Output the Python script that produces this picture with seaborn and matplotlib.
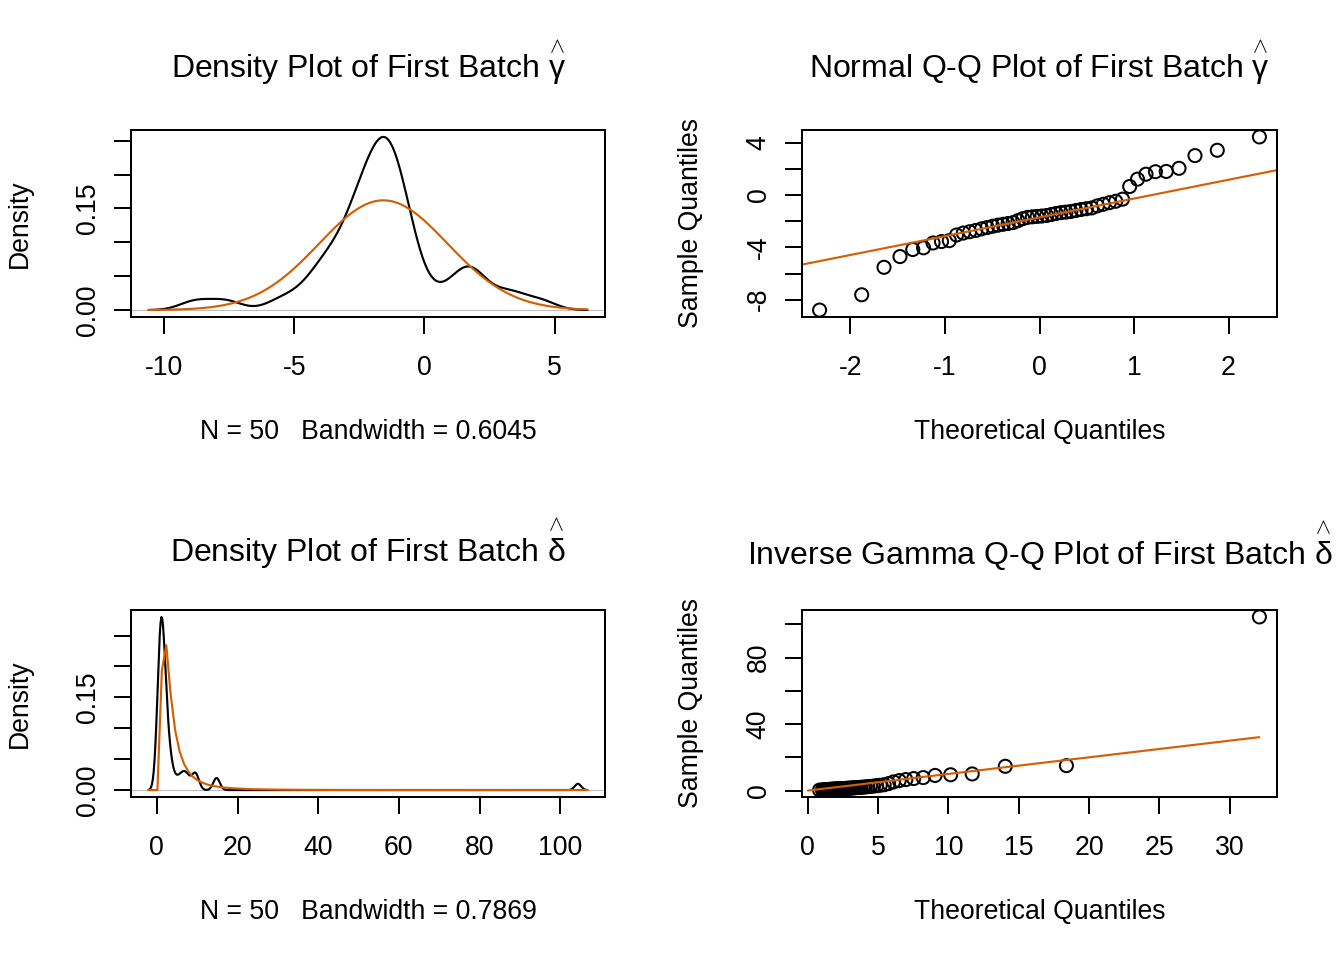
import math
from statistics import NormalDist

import numpy as np
import matplotlib
matplotlib.use("Agg")
import matplotlib.pyplot as plt
import seaborn as sns

# gamma-hat of the first batch, sorted
gamma_low = [-8.79, -7.62, -5.52, -4.70, -4.16, -4.03, -3.66, -3.55, -3.48, -3.05]
gamma_mid = [-2.90, -2.80, -2.70, -2.58, -2.48, -2.38, -2.30, -2.23, -2.17, -2.10,
             -1.95, -1.80, -1.70, -1.66, -1.63, -1.60, -1.56, -1.48, -1.40, -1.34,
             -1.30, -1.25, -1.18, -1.10, -1.04, -0.98, -0.82, -0.70, -0.58, -0.47]
gamma_high = [-0.31, 0.66, 1.22, 1.60, 1.79, 1.81, 2.05, 3.02, 3.43, 4.45]

# delta-hat of the first batch, sorted
delta_low = [0.30, 0.40, 0.48, 0.55, 0.61, 0.66, 0.71, 0.75, 0.79, 0.83,
             0.87, 0.91, 0.95, 0.99, 1.03, 1.07, 1.11, 1.15, 1.20, 1.25,
             1.30, 1.36, 1.42, 1.48, 1.55, 1.62, 1.70, 1.78, 1.86, 1.95]
delta_mid = [2.05, 2.20, 2.35, 2.50, 2.70, 2.95, 3.20, 3.50, 4.20, 5.20]
delta_high = [6.00, 6.60, 7.20, 7.80, 9.10, 9.50, 10.00, 14.60, 15.00, 104.40]

gamma_hat = np.array(gamma_low + gamma_mid + gamma_high)
delta_hat = np.array(delta_low + delta_mid + delta_high)

# bandwidths printed under the density plots
gamma_bw = 0.6045
delta_bw = 0.7869

# inverse gamma prior (shape, scale) for delta
a_prior = 2.13
b_prior = 5.74

ORANGE = "#D55E00"
GRAY = "#BEBEBE"
W, H = 1344, 960

sns.set_theme(style="white")
plt.rcParams["font.family"] = ["Liberation Sans", "DejaVu Sans"]
plt.rcParams.update({
    "mathtext.fontset": "custom",
    "mathtext.rm": "Liberation Sans",
    "mathtext.it": "Liberation Sans",
    "mathtext.bf": "Liberation Sans:bold",
    "axes.edgecolor": "black",
    "axes.linewidth": 0.75,
    "text.color": "black",
    "axes.labelcolor": "black",
    "xtick.color": "black",
    "ytick.color": "black",
})


def ppoints(n):
    a = 3 / 8 if n <= 10 else 0.5
    return (np.arange(1, n + 1) - a) / (n + 1 - 2 * a)


def invgamma_pdf(x, a, b):
    x = np.asarray(x, dtype=float)
    out = np.zeros_like(x)
    pos = x > 0
    lx = np.log(x[pos])
    out[pos] = np.exp(a * math.log(b) - math.lgamma(a) - (a + 1) * lx - b / x[pos])
    return out


def invgamma_quantile(p, a, b):
    u = np.linspace(np.log(1e-3), np.log(1e7), 400001)
    x = np.exp(u)
    f = invgamma_pdf(x, a, b) * x
    cdf = np.concatenate([[0], np.cumsum((f[1:] + f[:-1]) / 2 * np.diff(u))])
    cdf /= cdf[-1]
    return np.interp(p, cdf, x)


def padded(lo, hi, frac=0.04):
    r = hi - lo
    return lo - frac * r, hi + frac * r


def rect(left, top, right, bottom):
    return [left / W, 1 - bottom / H, (right - left) / W, (bottom - top) / H]


def style(ax, xticks, yticks, ylabels, title, pad, xlabel, ylabel):
    ax.set_xticks(xticks)
    ax.set_xticklabels([f"{t:g}" for t in xticks])
    ax.set_yticks(yticks)
    ax.set_yticklabels(ylabels)
    ax.tick_params(axis="both", direction="out", length=6.4, width=0.75,
                   labelsize=10, color="black", bottom=True, left=True)
    ax.tick_params(axis="x", pad=8)
    ax.tick_params(axis="y", pad=5, labelrotation=90)
    for lab in ax.get_yticklabels():
        lab.set_va("center")
    for s in ax.spines.values():
        s.set_visible(True)
        s.set_color("black")
        s.set_linewidth(0.75)
    ax.set_title(title, fontsize=12, pad=pad)
    ax.set_xlabel(xlabel, fontsize=10)
    ax.xaxis.set_label_coords(0.5, -115 / 187)
    ax.xaxis.label.set_va("center")
    ax.set_ylabel(ylabel, fontsize=10)
    ax.yaxis.set_label_coords(-111 / 474, 0.5)
    ax.yaxis.label.set_va("center")


GAMMA_HAT = r"$\overset{\wedge}{\gamma}$"
DELTA_HAT = r"$\overset{\wedge}{\delta}$"

fig = plt.figure(figsize=(7, 5), dpi=192)
ax1 = fig.add_axes(rect(131, 130, 605, 317))
ax2 = fig.add_axes(rect(802, 130, 1277, 317))
ax3 = fig.add_axes(rect(131, 610, 605, 797))
ax4 = fig.add_axes(rect(802, 610, 1277, 797))

# density of gamma-hat with normal prior
sns.kdeplot(x=gamma_hat, bw_method=gamma_bw / gamma_hat.std(ddof=1), cut=3,
            gridsize=512, color="black", linewidth=0.8, ax=ax1)
g_lo, g_hi = gamma_hat.min() - 3 * gamma_bw, gamma_hat.max() + 3 * gamma_bw
xx = np.linspace(g_lo, g_hi, 100)
norm = NormalDist(gamma_hat.mean(), gamma_hat.std(ddof=1))
sns.lineplot(x=xx, y=[norm.pdf(v) for v in xx], color=ORANGE, linewidth=0.8,
             sort=False, ax=ax1)
ymax = ax1.lines[0].get_ydata().max()
ax1.axhline(0, color=GRAY, linewidth=0.4, zorder=0)
ax1.set_xlim(*padded(g_lo, g_hi))
ax1.set_ylim(*padded(0, ymax))
style(ax1, [-10, -5, 0, 5], [0, 0.05, 0.10, 0.15, 0.20, 0.25],
      ["0.00", "", "", "0.15", "", ""],
      "Density Plot of First Batch " + GAMMA_HAT, 19.5,
      f"N = {len(gamma_hat)}   Bandwidth = {gamma_bw}", "Density")

# normal Q-Q plot of gamma-hat
theo = np.array([NormalDist().inv_cdf(p) for p in ppoints(len(gamma_hat))])
gs = np.sort(gamma_hat)
sns.scatterplot(x=theo, y=gs, s=24, facecolors="none", edgecolors="black",
                linewidths=0.75, ax=ax2)
q1, q3 = np.quantile(gs, [0.25, 0.75])
z1, z3 = NormalDist().inv_cdf(0.25), NormalDist().inv_cdf(0.75)
slope = (q3 - q1) / (z3 - z1)
ax2.axline((0, q1 - slope * z1), slope=slope, color=ORANGE, linewidth=0.8)
ax2.set_xlim(*padded(theo.min(), theo.max()))
ax2.set_ylim(*padded(gs.min(), gs.max()))
style(ax2, [-2, -1, 0, 1, 2], [-8, -6, -4, -2, 0, 2, 4],
      ["-8", "", "-4", "", "0", "", "4"],
      "Normal Q-Q Plot of First Batch " + GAMMA_HAT, 19.5,
      "Theoretical Quantiles", "Sample Quantiles")

# density of delta-hat with inverse gamma prior
sns.kdeplot(x=delta_hat, bw_method=delta_bw / delta_hat.std(ddof=1), cut=3,
            gridsize=512, color="black", linewidth=0.8, ax=ax3)
d_lo, d_hi = delta_hat.min() - 3 * delta_bw, delta_hat.max() + 3 * delta_bw
xx = np.linspace(d_lo, d_hi, 100)
ig = invgamma_pdf(xx, a_prior, b_prior)
sns.lineplot(x=xx, y=ig, color=ORANGE, linewidth=0.8, sort=False, ax=ax3)
ymax = max(ax3.lines[0].get_ydata().max(), ig.max())
ax3.axhline(0, color=GRAY, linewidth=0.4, zorder=0)
ax3.set_xlim(*padded(d_lo, d_hi))
ax3.set_ylim(*padded(0, ymax))
style(ax3, [0, 20, 40, 60, 80, 100], [0, 0.05, 0.10, 0.15, 0.20, 0.25],
      ["0.00", "", "", "0.15", "", ""],
      "Density Plot of First Batch " + DELTA_HAT, 18.0,
      f"N = {len(delta_hat)}   Bandwidth = {delta_bw}", "Density")

# inverse gamma Q-Q plot of delta-hat
invgam = invgamma_quantile(ppoints(len(delta_hat)), a_prior, b_prior)
ds = np.sort(delta_hat)
sns.scatterplot(x=invgam, y=ds, s=24, facecolors="none", edgecolors="black",
                linewidths=0.75, ax=ax4)
top = invgam.max()
sns.lineplot(x=[0, top], y=[0, top], color=ORANGE, linewidth=0.8, ax=ax4)
ax4.set_xlim(*padded(invgam.min(), invgam.max()))
ax4.set_ylim(*padded(ds.min(), ds.max()))
style(ax4, [0, 5, 10, 15, 20, 25, 30], [0, 20, 40, 60, 80, 100],
      ["0", "", "40", "", "80", ""],
      "Inverse Gamma Q-Q Plot of First Batch " + DELTA_HAT, 17.0,
      "Theoretical Quantiles", "Sample Quantiles")

fig.savefig("out.png", dpi=192)
